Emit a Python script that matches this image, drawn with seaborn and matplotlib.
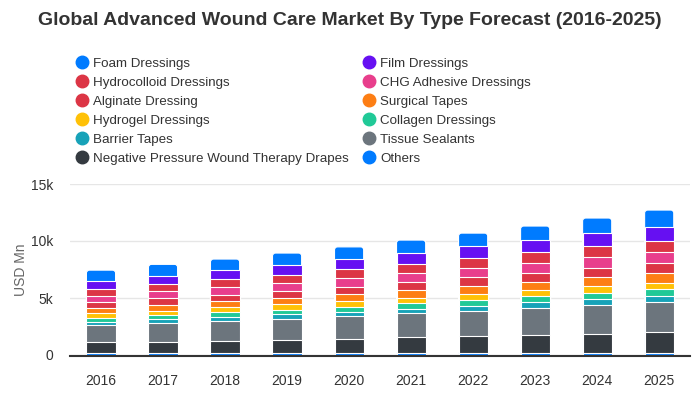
import matplotlib
matplotlib.use("Agg")
import matplotlib.pyplot as plt
from matplotlib.lines import Line2D
from matplotlib.patches import FancyBboxPatch
import seaborn as sns
import pandas as pd
import numpy as np

years = ["2016", "2017", "2018", "2019", "2020", "2021", "2022", "2023", "2024", "2025"]

# Series listed from top of stack to bottom (legend order)
series_names = [
    "Foam Dressings", "Film Dressings", "Hydrocolloid Dressings", "CHG Adhesive Dressings",
    "Alginate Dressing", "Surgical Tapes", "Hydrogel Dressings", "Collagen Dressings",
    "Barrier Tapes", "Tissue Sealants", "Negative Pressure Wound Therapy Drapes", "Others",
]
foam = [965, 995, 935, 1025, 1025, 1110, 1110, 1200, 1285, 1460]
film = [670, 700, 790, 877, 877, 965, 1050, 1050, 1140, 1230]
hydrocolloid = [640, 615, 700, 700, 790, 790, 877, 965, 965, 965]
chg = [525, 615, 700, 700, 790, 790, 790, 877, 965, 965]
alginate = [525, 615, 525, 615, 615, 700, 790, 790, 790, 877]
surgical = [440, 525, 525, 525, 615, 700, 700, 700, 790, 877]
hydrogel = [440, 350, 440, 525, 525, 440, 525, 525, 615, 525]
collagen = [350, 350, 440, 350, 440, 525, 525, 525, 525, 615]
barrier = [263, 350, 350, 440, 350, 350, 440, 525, 525, 525]
tissue = [1460, 1665, 1755, 1840, 2020, 2105, 2190, 2370, 2545, 2630]
npwt = [1020, 1025, 1110, 1200, 1290, 1460, 1490, 1580, 1665, 1840]
others = [146, 146, 146, 146, 146, 146, 205, 205, 205, 205]

series_values = [foam, film, hydrocolloid, chg, alginate, surgical, hydrogel,
                 collagen, barrier, tissue, npwt, others]
colors = ["#007bff", "#6610f2", "#dc3545", "#e83e8c", "#dc3545", "#fd7e14",
          "#ffc107", "#20c997", "#17a2b8", "#6c757d", "#343a40", "#007bff"]

sns.set_theme(style="white")
plt.rcParams["font.family"] = ["Liberation Sans", "DejaVu Sans"]

fig = plt.figure(figsize=(7, 4), dpi=100)
ax = fig.add_axes([0.1, 0.1125, 0.886, 0.4275])

vals = np.array(series_values, dtype=float)  # top -> bottom
cum_from_bottom = np.cumsum(vals[::-1], axis=0)[::-1]

for i, name in enumerate(series_names):
    df = pd.DataFrame({"year": years, "value": cum_from_bottom[i]})
    n_before = len(ax.patches)
    sns.barplot(data=df, x="year", y="value", color=colors[i], width=0.47,
                edgecolor="white", linewidth=0.8, saturation=1, ax=ax, zorder=2)
    if i == 0:
        # round the top corners of the topmost segment
        for p in list(ax.patches[n_before:]):
            x0, y0 = p.get_x(), p.get_y()
            w, h = p.get_width(), p.get_height()
            rb = FancyBboxPatch((x0, y0), w, h,
                                boxstyle="round,pad=0,rounding_size=0.05",
                                mutation_aspect=5200, facecolor=colors[0],
                                edgecolor="white", linewidth=0.8, zorder=2)
            p.set_visible(False)
            ax.add_patch(rb)

ax.set_ylim(0, 15000)
ax.set_xlim(-0.5, 9.5)
ax.set_yticks([0, 5000, 10000, 15000])
ax.set_yticklabels(["0", "5k", "10k", "15k"])
ax.yaxis.grid(True, color="#e6e6e6", linewidth=1)
ax.set_axisbelow(True)
for s in ["top", "right", "left"]:
    ax.spines[s].set_visible(False)
ax.spines["bottom"].set_color("#333333")
ax.spines["bottom"].set_linewidth(1.5)
ax.spines["bottom"].set_position(("outward", 1))
ax.tick_params(axis="both", length=0, labelsize=10, colors="#333333")
ax.tick_params(axis="x", pad=13)
ax.tick_params(axis="y", pad=12)
ax.set_xlabel("")
ax.set_ylabel("USD Mn", fontsize=10, color="#666666", labelpad=2)

fig.suptitle("Global Advanced Wound Care Market By Type Forecast (2016-2025)",
             x=0.5, y=0.97, fontsize=14, fontweight="bold", color="#333333")

handles = [Line2D([0], [0], marker="o", linestyle="none", markersize=9,
                  markerfacecolor=c, markeredgecolor=c) for c in colors]
order = [0, 2, 4, 6, 8, 10, 1, 3, 5, 7, 9, 11]
leg = fig.legend([handles[k] for k in order], [series_names[k] for k in order],
                 ncol=2, loc="upper left", bbox_to_anchor=(0.107, 0.857),
                 frameon=False, fontsize=9.6, handletextpad=0.35, columnspacing=1.0,
                 labelspacing=0.5, borderaxespad=0, borderpad=0, handlelength=1.0)
for t in leg.get_texts():
    t.set_color("#333333")

fig.savefig("out.png", dpi=100)
